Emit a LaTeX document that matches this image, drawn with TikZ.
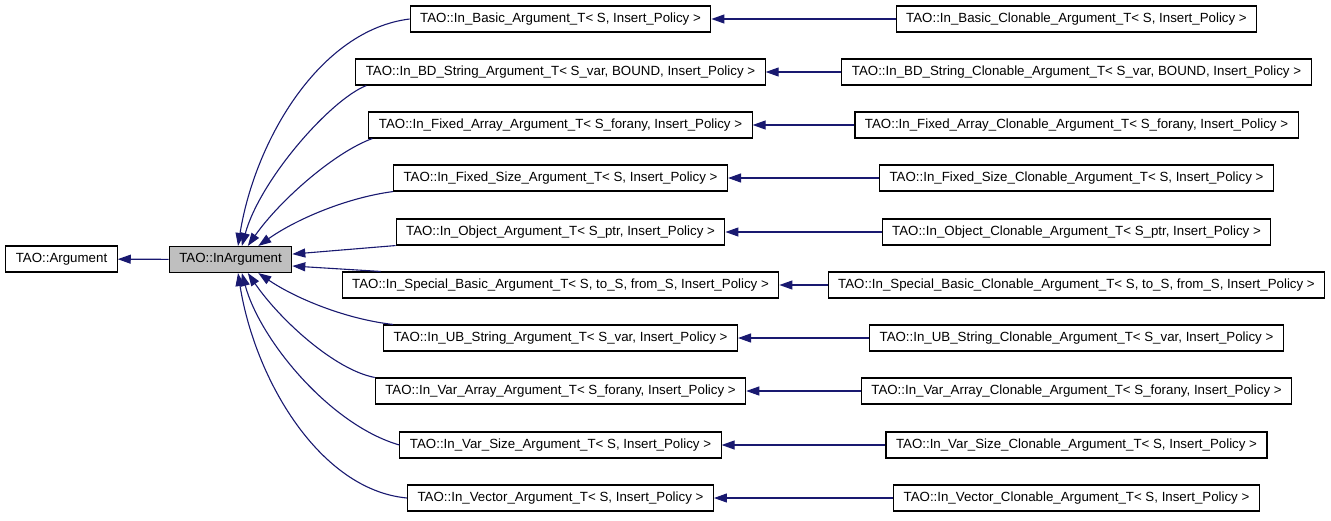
\documentclass[tikz,border=0pt]{standalone}
\usepackage{fontspec}
\setmainfont{Liberation Sans}
\usetikzlibrary{arrows.meta,calc}
\definecolor{edgeblue}{RGB}{25,25,112}
\definecolor{boxgray}{RGB}{191,191,191}
\begin{document}
\begin{tikzpicture}[x=1pt,y=-1pt,
    cls/.style={draw=black,line width=1.1pt,minimum height=26pt,inner xsep=10pt,inner ysep=0pt,font=\fontsize{13.3}{15}\selectfont},
    inh/.style={edgeblue,line width=1.1pt,-{Triangle[length=13pt,width=9pt]}}]
  \useasboundingbox (0,0) rectangle (1331,520);
  % base classes
  \node [cls] (arg) at (61.5,259) {TAO::Argument};
  \node [cls,fill=boxgray] (inarg) at (230.5,259.5) {TAO::InArgument};
  % templates
  \node [cls] (b1) at (560.5,19) {TAO::In\_Basic\_Argument\_T< S, Insert\_Policy >};
  \node [cls] (b2) at (560.5,72) {TAO::In\_BD\_String\_Argument\_T< S\_var, BOUND, Insert\_Policy >};
  \node [cls] (b3) at (560.5,125) {TAO::In\_Fixed\_Array\_Argument\_T< S\_forany, Insert\_Policy >};
  \node [cls] (b4) at (560.5,178) {TAO::In\_Fixed\_Size\_Argument\_T< S, Insert\_Policy >};
  \node [cls] (b5) at (560.5,232) {TAO::In\_Object\_Argument\_T< S\_ptr, Insert\_Policy >};
  \node [cls] (b6) at (560.5,285) {TAO::In\_Special\_Basic\_Argument\_T< S, to\_S, from\_S, Insert\_Policy >};
  \node [cls] (b7) at (560.5,338) {TAO::In\_UB\_String\_Argument\_T< S\_var, Insert\_Policy >};
  \node [cls] (b8) at (560.5,391) {TAO::In\_Var\_Array\_Argument\_T< S\_forany, Insert\_Policy >};
  \node [cls] (b9) at (560.5,445) {TAO::In\_Var\_Size\_Argument\_T< S, Insert\_Policy >};
  \node [cls] (b10) at (560.5,498) {TAO::In\_Vector\_Argument\_T< S, Insert\_Policy >};
  % clonable templates
  \node [cls] (c1) at (1076.5,19) {TAO::In\_Basic\_Clonable\_Argument\_T< S, Insert\_Policy >};
  \node [cls] (c2) at (1076.5,72) {TAO::In\_BD\_String\_Clonable\_Argument\_T< S\_var, BOUND, Insert\_Policy >};
  \node [cls] (c3) at (1076.5,125) {TAO::In\_Fixed\_Array\_Clonable\_Argument\_T< S\_forany, Insert\_Policy >};
  \node [cls] (c4) at (1076.5,178) {TAO::In\_Fixed\_Size\_Clonable\_Argument\_T< S, Insert\_Policy >};
  \node [cls] (c5) at (1076.5,232) {TAO::In\_Object\_Clonable\_Argument\_T< S\_ptr, Insert\_Policy >};
  \node [cls] (c6) at (1076.5,285) {TAO::In\_Special\_Basic\_Clonable\_Argument\_T< S, to\_S, from\_S, Insert\_Policy >};
  \node [cls] (c7) at (1076.5,338) {TAO::In\_UB\_String\_Clonable\_Argument\_T< S\_var, Insert\_Policy >};
  \node [cls] (c8) at (1076.5,391) {TAO::In\_Var\_Array\_Clonable\_Argument\_T< S\_forany, Insert\_Policy >};
  \node [cls] (c9) at (1076.5,445) {TAO::In\_Var\_Size\_Clonable\_Argument\_T< S, Insert\_Policy >};
  \node [cls] (c10) at (1076.5,498) {TAO::In\_Vector\_Clonable\_Argument\_T< S, Insert\_Policy >};
  % inheritance
  \draw [inh] (inarg) -- (arg);
  \draw [inh] (b1.west) .. controls (320,30) and (255,140) .. (inarg.61);
  \draw [inh] ($(b2.south west)+(11,0)$) .. controls (330,100) and (260,180) .. (inarg.50);
  \draw [inh] ($(b3.south west)+(4,0)$) .. controls (335,152) and (280,200) .. (inarg.38);
  \draw [inh] (b4.south west) .. controls (345,198) and (295,220) .. (inarg.26);
  \draw [inh] (b5.south west) -- (inarg.5);
  \draw [inh] ($(b6.north west)+(39,0)$) -- (inarg.-6);
  \draw [inh] ($(b7.north west)+(10,0)$) .. controls (345,319) and (295,298) .. (inarg.-26);
  \draw [inh] (b8.north west) .. controls (335,370) and (280,320) .. (inarg.-38);
  \draw [inh] (b9.west) .. controls (330,425) and (260,340) .. (inarg.-50);
  \draw [inh] (b10.west) .. controls (320,490) and (255,380) .. (inarg.-61);
  \draw [inh] (c1) -- (b1);
  \draw [inh] (c2) -- (b2);
  \draw [inh] (c3) -- (b3);
  \draw [inh] (c4) -- (b4);
  \draw [inh] (c5) -- (b5);
  \draw [inh] (c6) -- (b6);
  \draw [inh] (c7) -- (b7);
  \draw [inh] (c8) -- (b8);
  \draw [inh] (c9) -- (b9);
  \draw [inh] (c10) -- (b10);
\end{tikzpicture}
\end{document}
